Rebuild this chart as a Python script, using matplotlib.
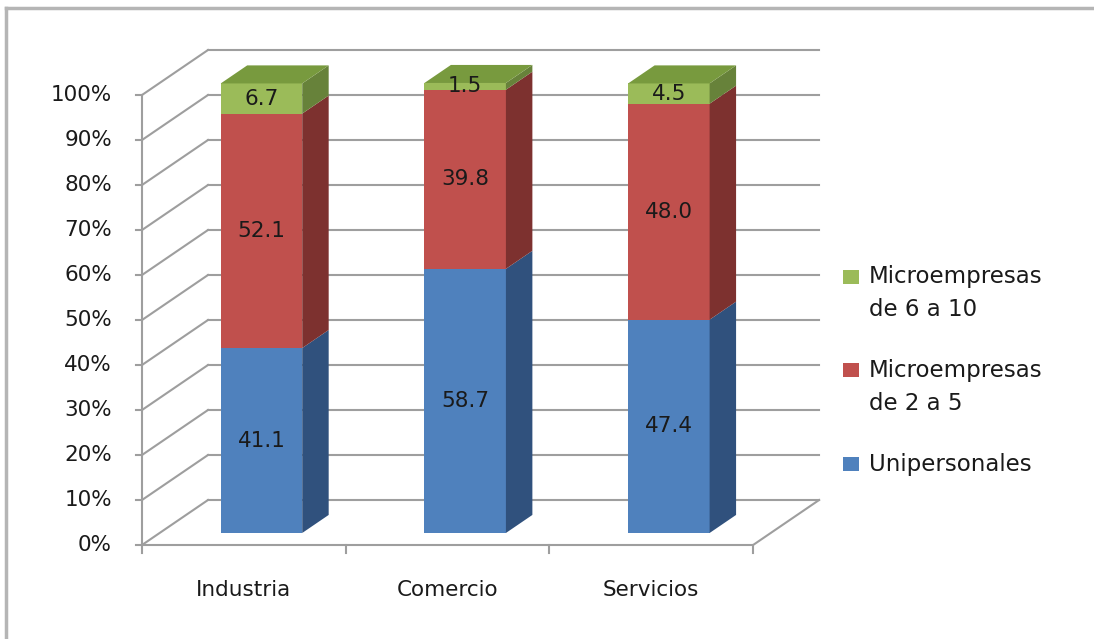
import matplotlib
matplotlib.use("Agg")
import matplotlib.pyplot as plt
from matplotlib.patches import Polygon, Rectangle
from matplotlib.lines import Line2D
import numpy as np

# ---- data ----
categories = ["Industria", "Comercio", "Servicios"]
series_names = ["Unipersonales", "Microempresas\nde 2 a 5", "Microempresas\nde 6 a 10"]
unipersonales = [41.1, 58.7, 47.4]
micro_2_5 = [52.1, 39.8, 48.0]
micro_6_10 = [6.7, 1.5, 4.5]
y_ticks = [0, 10, 20, 30, 40, 50, 60, 70, 80, 90, 100]

series = [unipersonales, micro_2_5, micro_6_10]
front_colors = ["#4F81BD", "#C0504D", "#9BBB59"]
side_colors = ["#30517D", "#7D312F", "#67823A"]
top_colors = ["#3E679A", "#9B3D3A", "#789A3E"]

# ---- figure / pseudo-3D projection ----
W, H = 1094, 639
fig = plt.figure(figsize=(W / 100, H / 100), dpi=100)
ax = fig.add_axes([0, 0, 1, 1])
PX_X = 203.7   # pixels per category unit
PX_Y = 4.5     # pixels per percent
X0_PX, Y0_PX = 142, 545
ax.set_xlim(-0.5 - X0_PX / PX_X, -0.5 + (W - X0_PX) / PX_X)
ax.set_ylim(-(H - Y0_PX) / PX_Y, Y0_PX / PX_Y)
ax.axis("off")

DX, DY = 66 / PX_X, 10.0   # full depth offset in data units
F0, F1 = 0.267, 0.668      # bar front/back depth fractions


def P(x, v, f):
    return (x + f * DX, v + f * DY)


grid_c = "#9E9E9E"
glw = 1.5
txt_c = "#1a1a1a"
fs = 15.5
n = len(categories)
xl, xr = -0.5, n - 0.5

# left wall diagonals and back wall gridlines
for t in y_ticks:
    a, b = P(xl, t, 0), P(xl, t, 1)
    ax.plot([a[0], b[0]], [a[1], b[1]], color=grid_c, lw=glw, zorder=1)
    c = P(xr, t, 1)
    ax.plot([b[0], c[0]], [b[1], c[1]], color=grid_c, lw=glw, zorder=1)
    ax.plot([a[0] - 6 / PX_X, a[0]], [a[1], a[1]], color=grid_c, lw=glw, zorder=1)
    ax.text(a[0] - 30 / PX_X, a[1], f"{t}%", ha="right", va="center",
            fontsize=fs, color=txt_c)

# floor
fl = P(xl, 0, 0); fr = P(xr, 0, 0); br = P(xr, 0, 1)
ax.plot([fl[0], fr[0], br[0]], [fl[1], fr[1], br[1]], color=grid_c, lw=glw, zorder=1)
# front vertical axis
top = P(xl, 100, 0)
ax.plot([fl[0], top[0]], [fl[1], top[1]], color=grid_c, lw=glw, zorder=1)
# category tick marks
for k in range(n + 1):
    xx = P(xl + k, 0, 0)
    ax.plot([xx[0], xx[0]], [xx[1], xx[1] - 8 / PX_Y], color=grid_c, lw=glw, zorder=1)

# category labels
for i, cat in enumerate(categories):
    p = P(i, 0, 0)
    ax.text(p[0], p[1] - 45 / PX_Y, cat, ha="center", va="center",
            fontsize=fs, color=txt_c)

# bars
xs = np.arange(n)
bw = 0.4
bottoms = np.zeros(n)
for s, vals in enumerate(series):
    vals = np.array(vals)
    ax.bar(xs + F0 * DX, vals, bottom=bottoms + F0 * DY, width=bw,
           color=front_colors[s], edgecolor="none", zorder=3)
    for i in range(n):
        b0, b1 = bottoms[i], bottoms[i] + vals[i]
        xr_i = xs[i] + bw / 2
        side = [P(xr_i, b0, F0), P(xr_i, b0, F1), P(xr_i, b1, F1), P(xr_i, b1, F0)]
        ax.add_patch(Polygon(side, closed=True, facecolor=side_colors[s],
                             edgecolor="none", zorder=3))
        if s == len(series) - 1:
            xl_i = xs[i] - bw / 2
            topf = [P(xl_i, b1, F0), P(xr_i, b1, F0), P(xr_i, b1, F1), P(xl_i, b1, F1)]
            ax.add_patch(Polygon(topf, closed=True, facecolor=top_colors[s],
                                 edgecolor="none", zorder=3))
        lp = P(xs[i], b0 + vals[i] / 2, F0)
        ax.text(lp[0], lp[1], f"{vals[i]:.1f}", ha="center", va="center",
                fontsize=fs, color=txt_c, zorder=5)
    bottoms = bottoms + vals

# legend (manual, top entry first)
leg_y = [277, 370, 464]
for j, s in enumerate([2, 1, 0]):
    yc = leg_y[j]
    fig.patches.append(Rectangle((843 / W, 1 - (yc + 7) / H), 16 / W, 14 / H,
                                 transform=fig.transFigure, facecolor=front_colors[s],
                                 edgecolor="none"))
    lines = series_names[s].split("\n")
    for k, line in enumerate(lines):
        fig.text(869 / W, 1 - (yc + 33 * k) / H, line, ha="left", va="center",
                 fontsize=16.5, color=txt_c)

# chart border (top and left edges visible)
fig.add_artist(Line2D([6 / W, 1], [1 - 8 / H, 1 - 8 / H], transform=fig.transFigure,
                      color="#B5B5B5", lw=2.5))
fig.add_artist(Line2D([6 / W, 6 / W], [0, 1 - 8 / H], transform=fig.transFigure,
                      color="#B5B5B5", lw=2.5))

fig.savefig("out.png", dpi=100, facecolor="white")
